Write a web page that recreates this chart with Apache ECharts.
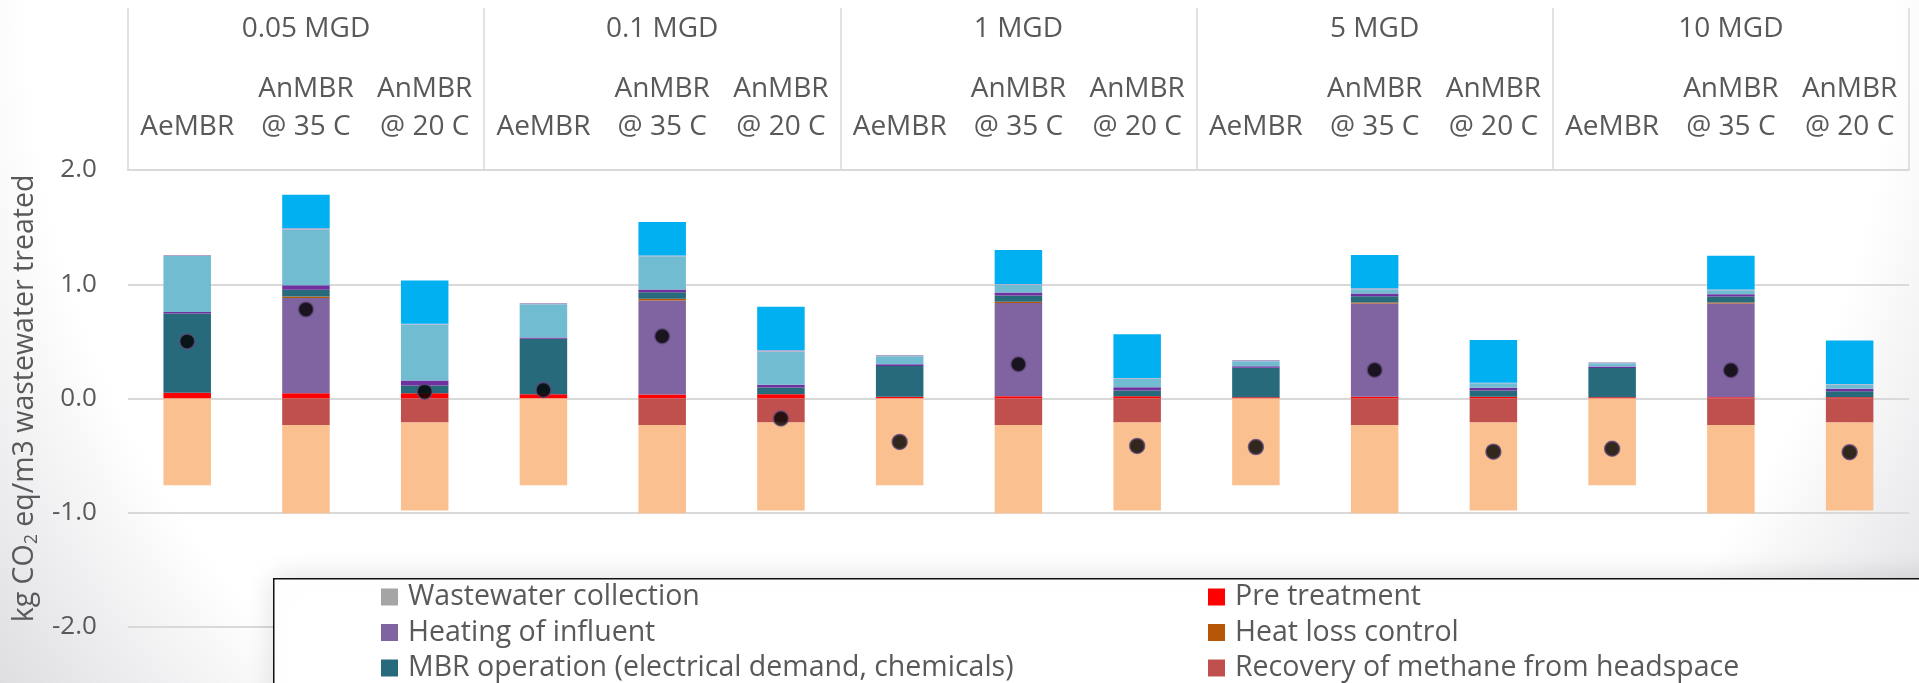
<!DOCTYPE html>
<html>
<head>
<meta charset="utf-8">
<title>Carbon footprint of MBR configurations</title>
<script src="https://cdn.jsdelivr.net/npm/echarts@6/dist/echarts.min.js"></script>
<style>
  html, body { margin: 0; padding: 0; background: #fff; }
  #chart { width: 1919px; height: 683px; }
</style>
</head>
<body>
<div id="chart"></div>
<script>
// Plant sizes (outer header level) and treatment configurations (inner level)
const sizeGroups = ['0.05 MGD', '0.1 MGD', '1 MGD', '5 MGD', '10 MGD'];
const configs = [
  'AeMBR', 'AnMBR\n@ 35 C', 'AnMBR\n@ 20 C',
  'AeMBR', 'AnMBR\n@ 35 C', 'AnMBR\n@ 20 C',
  'AeMBR', 'AnMBR\n@ 35 C', 'AnMBR\n@ 20 C',
  'AeMBR', 'AnMBR\n@ 35 C', 'AnMBR\n@ 20 C',
  'AeMBR', 'AnMBR\n@ 35 C', 'AnMBR\n@ 20 C'
];
const yTicks = [-2, -1, 0, 1, 2];

// Emission contributions, kg CO2 eq per m3 of wastewater treated
const wastewaterCollection = [0, 0, 0, 0, 0, 0, 0, 0, 0, 0, 0, 0, 0, 0, 0];
const preTreatment   = [0.05, 0.047, 0.047, 0.038, 0.035, 0.038, 0.015, 0.02, 0.02, 0.01, 0.015, 0.015, 0.012, 0.012, 0.012];
const heatingInfluent = [0, 0.832, 0, 0, 0.823, 0, 0, 0.815, 0, 0, 0.817, 0, 0, 0.82, 0];
const heatLossControl = [0, 0.014, 0, 0, 0.015, 0, 0, 0.011, 0, 0, 0.009, 0, 0, 0.009, 0];
const mbrOperation   = [0.695, 0.058, 0.067, 0.484, 0.058, 0.058, 0.27, 0.056, 0.05, 0.26, 0.055, 0.055, 0.255, 0.051, 0.052];
const methaneRecovery = [0, -0.233, -0.21, 0, -0.233, -0.21, 0, -0.233, -0.21, 0, -0.233, -0.21, 0, -0.233, -0.21];
const sludgeHandling = [0.012, 0.04, 0.044, 0.012, 0.023, 0.024, 0.014, 0.026, 0.029, 0.012, 0.023, 0.023, 0.012, 0.02, 0.021];
const infrastructure = [0.49, 0.485, 0.49, 0.29, 0.292, 0.29, 0.07, 0.067, 0.075, 0.044, 0.038, 0.04, 0.03, 0.036, 0.037];
const effluentDischarge = [0.01, 0.015, 0.006, 0.011, 0.006, 0.013, 0.012, 0.007, 0.006, 0.01, 0.009, 0.004, 0.009, 0.006, 0.004];
const dissolvedMethane = [0, 0.292, 0.379, 0, 0.292, 0.38, 0, 0.298, 0.383, 0, 0.289, 0.374, 0, 0.295, 0.382];
const energyOffset   = [-0.76, -0.771, -0.77, -0.76, -0.771, -0.77, -0.76, -0.771, -0.77, -0.76, -0.771, -0.77, -0.76, -0.771, -0.77];
const netEmissions   = [0.50, 0.78, 0.06, 0.075, 0.545, -0.175, -0.38, 0.30, -0.415, -0.425, 0.25, -0.465, -0.44, 0.247, -0.47];

// Legend layout: two columns, three rows
const legendColumns = [
  ['Wastewater collection', 'Heating of influent', 'MBR operation (electrical demand, chemicals)'],
  ['Pre treatment', 'Heat loss control', 'Recovery of methane from headspace']
];

const FONT = "'Open Sans', 'Noto Sans', sans-serif";
const TEXT = '#595959';
const GRID_LINE = '#D9D9D9';

const stackDefs = [
  ['Wastewater collection', wastewaterCollection, '#A5A5A5'],
  ['Pre treatment', preTreatment, '#FF0000'],
  ['Heating of influent', heatingInfluent, '#8064A2'],
  ['Heat loss control', heatLossControl, '#B65708'],
  ['MBR operation (electrical demand, chemicals)', mbrOperation, '#276A7B'],
  ['Recovery of methane from headspace', methaneRecovery, '#C0504D'],
  ['Sludge handling', sludgeHandling, '#7030A0'],
  ['Infrastructure', infrastructure, '#71BCD1'],
  ['Effluent discharge', effluentDischarge, '#B3A2C7'],
  ['Dissolved methane in effluent', dissolvedMethane, '#00B0F0'],
  ['Energy offset', energyOffset, '#FAC090']
];

const series = stackDefs.map(([name, values, color]) => ({
  name: name,
  type: 'bar',
  stack: 'footprint',
  xAxisIndex: 0,
  barWidth: '40%',
  data: values,
  itemStyle: { color: color },
  emphasis: { disabled: true },
  z: 2
}));

series.push({
  name: 'Net emissions',
  type: 'scatter',
  xAxisIndex: 0,
  data: netEmissions,
  symbol: 'circle',
  symbolSize: 15,
  itemStyle: { color: '#000000', borderColor: '#604A7B', borderWidth: 1.5 },
  z: 4
});

const legendText = { fontFamily: FONT, fontSize: 28.5, color: TEXT, lineHeight: 30, padding: [0, 0, 0, 5] };
const columnLeft = [381, 1208];
const rowTop = [582, 617.5, 653];

// one legend component per entry keeps the columns aligned
const legends = [];
legendColumns.forEach((names, c) => {
  names.forEach((name, r) => {
    legends.push({
      orient: 'horizontal', left: columnLeft[c], top: rowTop[r], padding: 0,
      itemWidth: 17, itemHeight: 17, icon: 'rect',
      selectedMode: false, z: 10,
      data: [name],
      textStyle: legendText
    });
  });
});

const option = {
  animation: false,
  backgroundColor: {
    type: 'radial', x: 0.5, y: 0, r: 1.75,
    colorStops: [
      { offset: 0, color: '#FFFFFF' },
      { offset: 0.78, color: '#FFFFFF' },
      { offset: 1, color: '#DCDCE0' }
    ]
  },
  textStyle: { fontFamily: FONT },
  grid: { left: 119, right: 10, top: 170, bottom: 56, containLabel: false },
  xAxis: [
    {
      type: 'category',
      data: configs,
      position: 'top',
      axisLine: { show: false },
      axisTick: { show: false },
      splitLine: { show: false },
      axisLabel: {
        interval: 0, margin: 24,
        fontFamily: FONT, fontSize: 28, lineHeight: 38, color: TEXT
      }
    },
    {
      type: 'category',
      data: sizeGroups,
      position: 'top',
      axisLine: { show: true, lineStyle: { color: GRID_LINE, width: 2 } },
      axisTick: { show: true, interval: 0, length: 162, lineStyle: { color: GRID_LINE, width: 1.5 } },
      splitLine: { show: false },
      axisLabel: {
        interval: 0, margin: 122,
        fontFamily: FONT, fontSize: 28, lineHeight: 38, color: TEXT
      }
    }
  ],
  yAxis: {
    type: 'value',
    min: yTicks[0],
    max: yTicks[yTicks.length - 1],
    interval: 1,
    axisLine: { show: false },
    axisTick: { show: false },
    splitLine: { lineStyle: { color: GRID_LINE, width: 2 } },
    axisLabel: {
      margin: 31, fontFamily: FONT, fontSize: 26, color: TEXT,
      formatter: v => v.toFixed(1)
    },
    name: 'kg CO{sub|2} eq/m3 wastewater treated',
    nameLocation: 'middle',
    nameGap: 67,
    nameTextStyle: {
      fontFamily: FONT, fontSize: 28.5, color: TEXT, lineHeight: 33,
      rich: {
        sub: { fontFamily: FONT, fontSize: 18, color: TEXT, lineHeight: 18, verticalAlign: 'bottom' }
      }
    }
  },
  legend: legends,
  graphic: [
    {
      type: 'rect',
      left: 273, top: 578, z: 8,
      shape: { width: 1700, height: 200 },
      style: {
        fill: '#FFFFFF', stroke: '#111111', lineWidth: 1.5,
        shadowBlur: 28, shadowColor: 'rgba(0,0,0,0.13)'
      }
    }
  ],
  series: series
};

const chart = echarts.init(document.getElementById('chart'), null, { renderer: 'canvas' });
chart.setOption(option);
</script>
</body>
</html>
